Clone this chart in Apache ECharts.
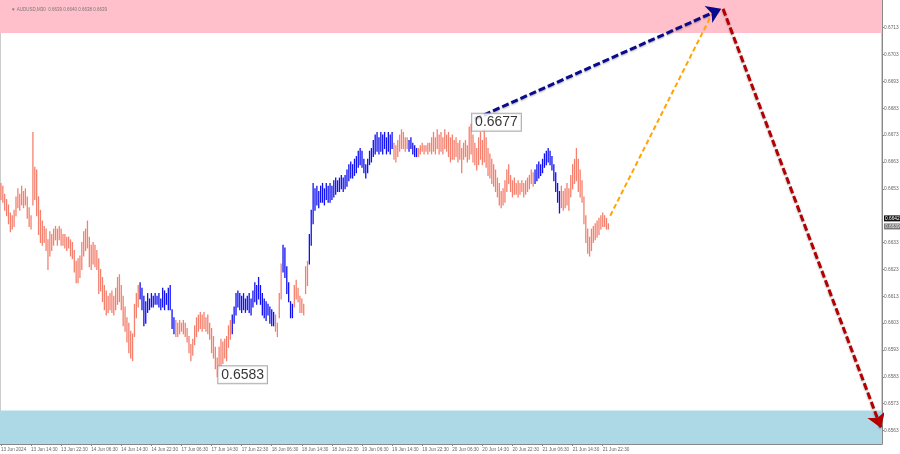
<!DOCTYPE html>
<html><head><meta charset="utf-8">
<script src="https://cdn.jsdelivr.net/npm/echarts@6/dist/echarts.min.js"></script>
<style>html,body{margin:0;padding:0;background:#fff}#c{width:900px;height:454px}</style>
</head><body><div id="c"></div>
<script>
// ---- data ----
const chartTitle = '\u25BC AUDUSD,M30  0.6639 0.6640 0.6638 0.6639';
const timeLabels = ['13 Jun 2024','13 Jun 14:30','13 Jun 22:30','14 Jun 06:30','14 Jun 14:30','14 Jun 22:30','17 Jun 06:30','17 Jun 14:30','17 Jun 22:30','18 Jun 06:30','18 Jun 14:30','18 Jun 22:30','19 Jun 06:30','19 Jun 14:30','19 Jun 22:30','20 Jun 06:30','20 Jun 14:30','20 Jun 22:30','21 Jun 06:30','21 Jun 14:30','21 Jun 22:30'];
const barsPerLabel = 16;
const totalSlots = 469;
const highs = [
0.6655,0.6654,0.6651,0.6649,0.6647,0.6644,0.6643,0.6645,
0.6650,0.6653,0.6651,0.6654,0.6652,0.6653,0.6650,0.6646,
0.6643,0.6674,0.6661,0.6660,0.6650,0.6645,0.6641,0.6639,
0.6638,0.6634,0.6637,0.6636,0.6638,0.6639,0.6638,0.6639,
0.6638,0.6636,0.6636,0.6635,0.6635,0.6634,0.6633,0.6630,
0.6626,0.6627,0.6628,0.6633,0.6637,0.6638,0.6641,0.6635,
0.6632,0.6633,0.6632,0.6630,0.6627,0.6623,0.6620,0.6617,
0.6615,0.6613,0.6614,0.6615,0.6613,0.6616,0.6620,0.6621,
0.6617,0.6613,0.6609,0.6605,0.6603,0.6600,0.6599,0.6610,
0.6614,0.6617,0.6618,0.6616,0.6613,0.6611,0.6614,0.6612,
0.6614,0.6613,0.6614,0.6613,0.6614,0.6612,0.6616,0.6615,
0.6614,0.6616,0.6617,0.6608,0.6605,0.6604,0.6603,0.6604,
0.6603,0.6604,0.6603,0.6601,0.6598,0.6595,0.6597,0.6602,
0.6605,0.6606,0.6607,0.6606,0.6607,0.6605,0.6606,0.6603,
0.6601,0.6598,0.6594,0.6590,0.6594,0.6597,0.6596,0.6597,
0.6598,0.6602,0.6604,0.6606,0.6609,0.6614,0.6615,0.6614,
0.6613,0.6614,0.6612,0.6613,0.6614,0.6612,0.6615,0.6618,
0.6617,0.6620,0.6617,0.6614,0.6612,0.6611,0.6610,0.6609,
0.6608,0.6607,0.6606,0.6603,0.6614,0.6625,0.6632,0.6631,
0.6624,0.6618,0.6611,0.6610,0.6617,0.6619,0.6616,0.6613,
0.6612,0.6610,0.6624,0.6626,0.6636,0.6645,0.6655,0.6653,
0.6654,0.6652,0.6654,0.6655,0.6653,0.6655,0.6654,0.6655,
0.6654,0.6656,0.6657,0.6656,0.6657,0.6658,0.6657,0.6658,
0.6660,0.6662,0.6663,0.6662,0.6664,0.6665,0.6667,0.6668,
0.6667,0.6664,0.6662,0.6664,0.6667,0.6668,0.6671,0.6673,
0.6674,0.6672,0.6674,0.6673,0.6674,0.6672,0.6674,0.6673,
0.6674,0.6670,0.6669,0.6671,0.6673,0.6675,0.6674,0.6672,
0.6672,0.6671,0.6672,0.6670,0.6669,0.6668,0.6668,0.6669,
0.6670,0.6669,0.6669,0.6670,0.6670,0.6672,0.6674,0.6672,
0.6675,0.6673,0.6674,0.6672,0.6675,0.6673,0.6674,0.6672,
0.6673,0.6671,0.6672,0.6670,0.6671,0.6668,0.6670,0.6671,
0.6669,0.6676,0.6677,0.6673,0.6670,0.6668,0.6672,0.6674,
0.6671,0.6675,0.6672,0.6668,0.6666,0.6664,0.6662,0.6660,
0.6657,0.6655,0.6652,0.6653,0.6656,0.6660,0.6662,0.6658,
0.6656,0.6657,0.6655,0.6656,0.6655,0.6656,0.6655,0.6656,
0.6657,0.6658,0.6660,0.6659,0.6660,0.6662,0.6663,0.6662,
0.6664,0.6666,0.6667,0.6668,0.6667,0.6665,0.6662,0.6659,
0.6655,0.6652,0.6654,0.6652,0.6653,0.6655,0.6653,0.6658,
0.6662,0.6664,0.6668,0.6664,0.6660,0.6656,0.6650,0.6643,
0.6638,0.6635,0.6638,0.6639,0.6640,0.6641,0.6642,0.6643,
0.6644,0.6643,0.6642,0.6640];
const lows = [
0.6649,0.6648,0.6645,0.6643,0.6640,0.6637,0.6638,0.6639,
0.6643,0.6646,0.6645,0.6647,0.6646,0.6647,0.6642,0.6639,
0.6638,0.6647,0.6649,0.6643,0.6636,0.6633,0.6632,0.6633,
0.6630,0.6623,0.6628,0.6630,0.6632,0.6634,0.6632,0.6634,
0.6632,0.6632,0.6631,0.6630,0.6631,0.6628,0.6627,0.6622,
0.6618,0.6618,0.6620,0.6623,0.6628,0.6630,0.6631,0.6624,
0.6623,0.6625,0.6624,0.6623,0.6614,0.6615,0.6611,0.6608,
0.6606,0.6607,0.6608,0.6607,0.6606,0.6608,0.6610,0.6611,
0.6608,0.6602,0.6600,0.6596,0.6592,0.6590,0.6589,0.6598,
0.6605,0.6609,0.6612,0.6608,0.6602,0.6603,0.6607,0.6608,
0.6609,0.6609,0.6610,0.6610,0.6609,0.6608,0.6609,0.6608,
0.6610,0.6608,0.6608,0.6601,0.6599,0.6598,0.6598,0.6599,
0.6600,0.6599,0.6598,0.6596,0.6592,0.6589,0.6591,0.6595,
0.6598,0.6600,0.6601,0.6600,0.6601,0.6600,0.6599,0.6597,
0.6592,0.6590,0.6586,0.6583,0.6586,0.6587,0.6588,0.6590,
0.6589,0.6594,0.6597,0.6599,0.6603,0.6606,0.6609,0.6608,
0.6607,0.6608,0.6607,0.6608,0.6607,0.6606,0.6609,0.6611,
0.6610,0.6612,0.6610,0.6606,0.6605,0.6604,0.6606,0.6603,
0.6602,0.6602,0.6600,0.6598,0.6605,0.6612,0.6622,0.6620,
0.6614,0.6611,0.6605,0.6605,0.6609,0.6612,0.6611,0.6607,
0.6607,0.6606,0.6614,0.6617,0.6625,0.6632,0.6640,0.6645,
0.6647,0.6646,0.6648,0.6648,0.6647,0.6649,0.6648,0.6648,
0.6649,0.6650,0.6651,0.6652,0.6652,0.6653,0.6652,0.6653,
0.6654,0.6656,0.6657,0.6657,0.6658,0.6659,0.6661,0.6662,
0.6661,0.6659,0.6657,0.6659,0.6662,0.6663,0.6665,0.6666,
0.6667,0.6666,0.6667,0.6666,0.6668,0.6666,0.6667,0.6666,
0.6668,0.6664,0.6663,0.6665,0.6667,0.6668,0.6668,0.6667,
0.6668,0.6667,0.6668,0.6666,0.6665,0.6665,0.6665,0.6666,
0.6667,0.6666,0.6667,0.6666,0.6667,0.6666,0.6667,0.6666,
0.6668,0.6666,0.6667,0.6666,0.6668,0.6667,0.6665,0.6663,
0.6664,0.6664,0.6665,0.6663,0.6664,0.6659,0.6664,0.6665,
0.6663,0.6664,0.6666,0.6663,0.6662,0.6660,0.6662,0.6664,
0.6662,0.6663,0.6661,0.6658,0.6657,0.6655,0.6654,0.6652,
0.6650,0.6647,0.6646,0.6647,0.6648,0.6652,0.6655,0.6652,
0.6650,0.6651,0.6651,0.6650,0.6651,0.6652,0.6650,0.6651,
0.6652,0.6653,0.6655,0.6654,0.6655,0.6656,0.6657,0.6658,
0.6659,0.6661,0.6662,0.6663,0.6662,0.6660,0.6656,0.6652,
0.6648,0.6644,0.6646,0.6645,0.6646,0.6647,0.6645,0.6650,
0.6653,0.6655,0.6656,0.6652,0.6650,0.6648,0.6640,0.6633,
0.6629,0.6628,0.6630,0.6633,0.6634,0.6635,0.6636,0.6638,
0.6639,0.6639,0.6638,0.6638];
const blueRanges = [[74,92],[123,145],[150,155],[164,208],[217,221],[284,297]];
const priceTicks = [0.6563,0.6573,0.6583,0.6593,0.6603,0.6613,0.6623,0.6633,0.6653,0.6663,0.6673,0.6683,0.6693,0.6703,0.6713];
const yMin = 0.6558, yMax = 0.67233;
const resistanceZone = [0.6711, 0.67233];
const supportZone = [0.6558, 0.65705];
const extremeIdx = [250, 115];
const extremeVal = [0.6677, 0.6583];
const bluePath = [[252, 0.6679], [383, 0.6720]];
const orangePath = [[324, 0.6643], [378, 0.6718]];
const redPath = [[384, 0.6720], [468, 0.6564]];
const askTag = 0.6642, bidTag = 0.6639;
const scaleMarker = [0.6629, 0.6611];

// ---- build ----
const SALMON = '#F5806E', BLUE = '#1010F2';
const FONT = 'Liberation Sans';
function isBlue(i){ return blueRanges.some(r => i >= r[0] && i <= r[1]); }
const cats = [];
for (let i = 0; i < totalSlots; i++) {
  const k = i / barsPerLabel;
  cats.push(Number.isInteger(k) && k < timeLabels.length ? timeLabels[k] : '\u200B' + i);
}
const isLabelIdx = (idx) => idx % barsPerLabel === 0 && (idx / barsPerLabel) < timeLabels.length;
const barData = highs.map((h, i) => [i, h, lows[i], isBlue(i) ? 1 : 0]);

const chart = echarts.init(document.getElementById('c'), null, {renderer: 'canvas'});
chart.setOption({
  animation: false,
  backgroundColor: '#fff',
  title: {text: chartTitle, left: 6, top: 2, textStyle: {fontSize: 4.5, color: '#777', fontWeight: 'normal', fontFamily: FONT}},
  grid: {left: 0, right: 18, top: 0, bottom: 10, show: true, borderColor: '#999', borderWidth: 1, backgroundColor: 'transparent',
    containLabel: false, outerBoundsMode: 'none'},
  xAxis: {
    type: 'category', data: cats, boundaryGap: true,
    axisLine: {show: true, lineStyle: {color: '#888'}},
    axisTick: {show: true, alignWithLabel: true, length: 2, interval: (idx) => isLabelIdx(idx), lineStyle: {color: '#888'}},
    axisLabel: {show: true, interval: 0, showMinLabel: true, showMaxLabel: true, hideOverlap: false,
      align: 'left', margin: 3, fontSize: 4.6, color: '#666', fontFamily: FONT,
      formatter: (v) => (v.charAt(0) === '\u200B' ? '' : v)},
    splitLine: {show: false}
  },
  yAxis: [{
    type: 'value', position: 'right', min: yMin, max: yMax, scale: true,
    axisLine: {show: true, lineStyle: {color: '#888'}},
    axisTick: {show: true, length: 2, customValues: priceTicks, lineStyle: {color: '#888'}},
    axisLabel: {show: true, customValues: priceTicks, margin: 2, fontSize: 4.8, color: '#666', fontFamily: FONT,
      formatter: v => v.toFixed(4)},
    splitLine: {show: false}
  }, {
    type: 'value', position: 'right', min: yMin, max: yMax, scale: true, offset: 0,
    axisLine: {show: false}, axisTick: {show: false}, splitLine: {show: false},
    axisLabel: {show: true, customValues: [bidTag, askTag], margin: 2, fontSize: 4.8, fontFamily: FONT,
      formatter: v => (Math.abs(v - askTag) < 1e-7 ? '{a|' : '{b|') + v.toFixed(4) + '}',
      rich: {a: {fontSize: 4.8, color: '#fff', backgroundColor: '#111', padding: [1, 1, 0, 1], fontFamily: FONT},
             b: {fontSize: 4.8, color: '#eee', backgroundColor: '#777', padding: [1, 1, 0, 1], fontFamily: FONT}}}
  }],
  series: [
    {
      type: 'custom', name: 'bars', data: barData, encode: {x: 0, y: [1, 2]}, z: 3,
      renderItem: function (params, api) {
        const i = api.value(0);
        const p1 = api.coord([i, api.value(1)]);
        const p2 = api.coord([i, api.value(2)]);
        return {type: 'line', shape: {x1: p1[0], y1: p1[1] - 0.5, x2: p2[0], y2: p2[1] + 0.5},
          style: {stroke: api.value(3) ? BLUE : SALMON, lineWidth: 1.3}};
      },
      markArea: {silent: true, z: 1, data: [
        [{yAxis: resistanceZone[0], itemStyle: {color: '#FFC0CB'}}, {yAxis: resistanceZone[1]}],
        [{yAxis: supportZone[0], itemStyle: {color: '#ADD8E6'}}, {yAxis: supportZone[1]}]
      ]}
    },
    {
      type: 'lines', coordinateSystem: 'cartesian2d', z: 4, silent: true,
      data: [{coords: [[totalSlots - 0.5, scaleMarker[0]], [totalSlots - 0.5, scaleMarker[1]]]}],
      lineStyle: {color: '#888', width: 2, opacity: 1}
    },
    {
      type: 'scatter', data: extremeIdx.map((i, k) => [i, extremeVal[k]]), symbolSize: 0, z: 6,
      label: {show: true, position: 'right', distance: 1, offset: [0, -2], formatter: p => p.value[1].toFixed(4),
        fontFamily: FONT, fontSize: 14, color: '#000', backgroundColor: '#fff',
        borderColor: '#999', borderWidth: 1, padding: [2, 3, 1, 3]}
    },
    {
      type: 'lines', coordinateSystem: 'cartesian2d', z: 5,
      data: [{coords: orangePath}],
      symbol: ['none', 'none'],
      lineStyle: {color: '#FFA500', width: 2, type: [5, 3], opacity: 1}
    },
    {
      type: 'lines', coordinateSystem: 'cartesian2d', z: 6,
      data: [{coords: bluePath}],
      symbol: ['none', 'arrow'], symbolSize: 14,
      lineStyle: {color: '#0A0A8C', width: 3, type: [7, 3], opacity: 1, shadowColor: 'rgba(0,0,0,0.35)', shadowBlur: 2, shadowOffsetY: 1}
    },
    {
      type: 'lines', coordinateSystem: 'cartesian2d', z: 6,
      data: [{coords: redPath}],
      symbol: ['none', 'arrow'], symbolSize: 14,
      lineStyle: {color: '#B40000', width: 3, type: [7, 3], opacity: 1, shadowColor: 'rgba(0,0,0,0.35)', shadowBlur: 2, shadowOffsetY: 1}
    }
  ]
});
</script></body></html>
